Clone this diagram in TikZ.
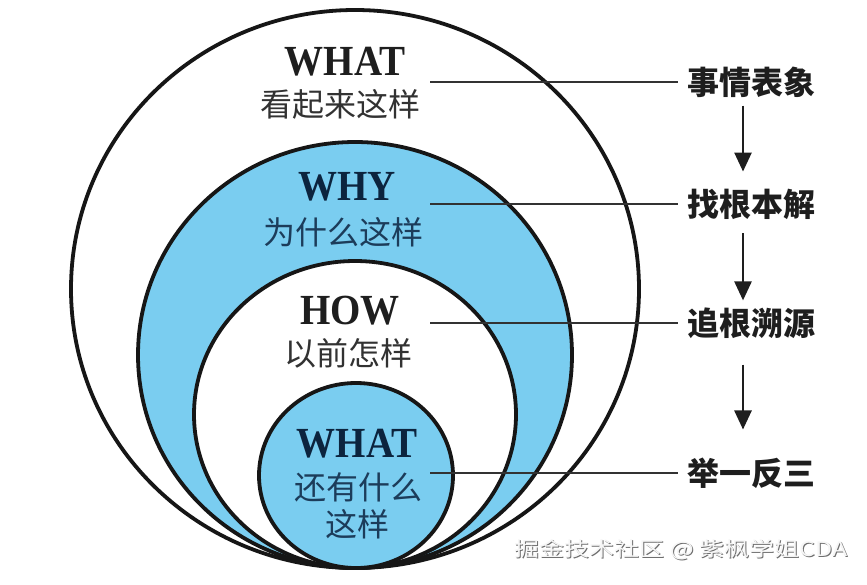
\documentclass[tikz,border=0pt]{standalone}
\usepackage{fontspec}
\setmainfont{Liberation Serif}
\newfontfamily\cjk{Noto Sans CJK SC}
\usetikzlibrary{arrows.meta}
\definecolor{skyfill}{RGB}{122,205,240}
\definecolor{rimcol}{RGB}{22,22,22}
\definecolor{navytxt}{RGB}{12,36,62}
\definecolor{bluezh}{RGB}{28,60,90}
\definecolor{darktxt}{RGB}{30,30,30}
\definecolor{greytxt}{RGB}{50,50,50}
\definecolor{wmshade}{RGB}{110,110,110}
\definecolor{wmface}{RGB}{246,246,246}
\begin{document}
\begin{tikzpicture}[x=1pt,y=-1pt,
  rim/.style={draw=rimcol, line width=3.8pt},
  eng/.style={font=\fontsize{39}{40}\selectfont\bfseries, inner sep=0pt, yscale=1.1},
  zh/.style={font=\cjk\fontsize{32}{34}\selectfont, inner sep=0pt},
  lab/.style={font=\cjk\bfseries\fontsize{32}{34}\selectfont, text=darktxt, inner xsep=9pt, inner ysep=0pt},
  link/.style={draw=greytxt, line width=2pt},
  flow/.style={draw=darktxt, line width=2.6pt, -{Triangle[width=17pt,length=19pt]}},
  wmtext/.style={font=\cjk\fontsize{20}{22}\selectfont, inner sep=0pt, xscale=1.25}]
\useasboundingbox[fill=white] (0,0) rectangle (867,584);
% nested ovals
\draw[rim, fill=white]   (355,289)   ellipse [x radius=284pt, y radius=279pt];
\draw[rim, fill=skyfill] (355,355)   ellipse [x radius=217pt, y radius=213pt];
\draw[rim, fill=white]   (355,414.5) ellipse [x radius=161pt, y radius=153.5pt];
\draw[rim, fill=skyfill] (356,475.5) ellipse [x radius=97pt,  y radius=92.5pt];
% texts inside
\node[eng, text=darktxt] (t1) at (345,62) {WHAT};
\node[zh, text=greytxt]  (z1) at (340,104) {看起来这样};
\node[eng, text=navytxt] (t2) at (347,187) {WHY};
\node[zh, text=bluezh]   (z2) at (343,232) {为什么这样};
\node[eng, text=darktxt] (t3) at (350,311) {HOW};
\node[zh, text=greytxt]  (z3) at (348,353) {以前怎样};
\node[eng, text=navytxt] (t4) at (357,444) {WHAT};
\node[zh, text=bluezh]   (z4) at (358,487) {还有什么};
\node[zh, text=bluezh]   (z5) at (357,524) {这样};
% right labels
\node[lab, anchor=west] (l1) at (678,82)  {事情表象};
\node[lab, anchor=west] (l2) at (678,204) {找根本解};
\node[lab, anchor=west] (l3) at (678,323) {追根溯源};
\node[lab, anchor=west] (l4) at (678,473) {举一反三};
% connectors
\coordinate (c1) at (430,82);
\coordinate (c2) at (430,204);
\coordinate (c3) at (430,323);
\coordinate (c4) at (430,473);
\draw[link] (c1) -- (l1.west);
\draw[link] (c2) -- (l2.west);
\draw[link] (c3) -- (l3.west);
\draw[link] (c4) -- (l4.west);
\coordinate (ax) at (743,0);
\draw[flow, shorten <=8pt, shorten >=17pt] (l1.south -| ax) -- (l2.north -| ax);
\draw[flow, shorten <=14pt, shorten >=7pt] (l2.south -| ax) -- (l3.north -| ax);
\draw[flow, shorten <=26pt, shorten >=28pt] (l3.south -| ax) -- (l4.north -| ax);
% watermark
\node[wmtext, text=wmshade] (wms) at (682.2,551.2) {掘金技术社区 @ 紫枫学姐CDA};
\node[wmtext, text=wmface]  (wm)  at (681,550) {掘金技术社区 @ 紫枫学姐CDA};
\end{tikzpicture}
\end{document}
